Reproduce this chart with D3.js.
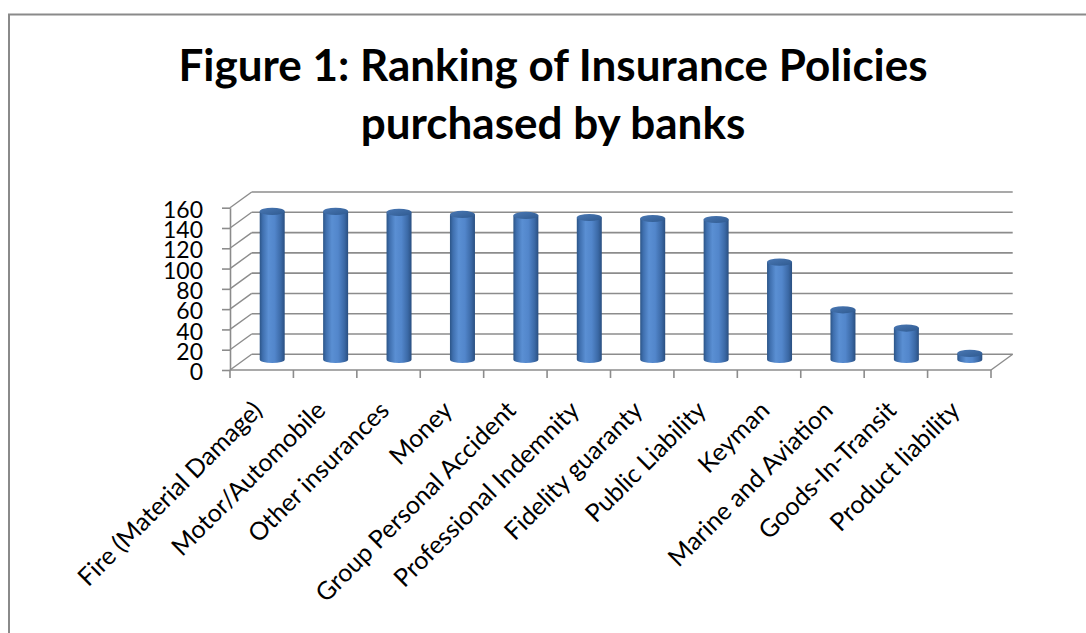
<!DOCTYPE html>
<html><head><meta charset="utf-8">
<script src="https://cdn.jsdelivr.net/npm/d3@7"></script>
<style>body{margin:0;background:#fff}svg{display:block}</style></head>
<body>
<svg id="c" width="1086" height="633"></svg>
<script>
const categories = ["Fire (Material Damage)","Motor/Automobile","Other insurances","Money",
  "Group Personal Accident","Professional Indemnity","Fidelity guaranty","Public Liability",
  "Keyman","Marine and Aviation","Goods-In-Transit","Product liability"];
const values = [146,146,145,143,142,140,139,138,96,49,31,6];
const yTickValues = [0,20,40,60,80,100,120,140,160];
const titleLines = ["Figure 1: Ranking of Insurance Policies","purchased by banks"];

const svg = d3.select("#c");
const W = 1086, H = 633;
const font = "Lato, 'Open Sans', sans-serif";
const grid = "#8c8c8c";

// frame
svg.append("rect").attr("x",9).attr("y",14.5).attr("width",W+20).attr("height",H+20)
  .attr("fill","#fff").attr("stroke","#8a8a8a").attr("stroke-width",2);

// title
svg.append("g").selectAll("text").data(titleLines).join("text")
  .attr("x",553).attr("y",(d,i)=>81+i*58)
  .attr("text-anchor","middle").attr("font-family",font).attr("font-weight","bold")
  .attr("font-size",44).attr("fill","#000").text(d=>d);

// geometry
const x0 = 230, x1 = 991, dX = 21.7, dY = -15.7;
const x = d3.scaleBand().domain(categories).range([x0,x1]);
const y = d3.scaleLinear().domain([0,160]).range([370,207.7]);
const bw = x.bandwidth();

const g = svg.append("g");
// back wall gridlines
g.selectAll("line.bg").data(yTickValues).join("line").attr("class","bg")
  .attr("x1",x0+dX).attr("x2",x1+dX).attr("y1",d=>y(d)+dY).attr("y2",d=>y(d)+dY)
  .attr("stroke",grid).attr("stroke-width",1.6);
// side wall gridlines
g.selectAll("line.sg").data(yTickValues).join("line").attr("class","sg")
  .attr("x1",x0).attr("x2",x0+dX).attr("y1",d=>y(d)).attr("y2",d=>y(d)+dY)
  .attr("stroke",grid).attr("stroke-width",1.4);
// floor right edge
g.append("line").attr("x1",x1).attr("y1",y(0)).attr("x2",x1+dX).attr("y2",y(0)+dY)
  .attr("stroke",grid).attr("stroke-width",1.4);

// left axis
const yAxis = d3.axisLeft(y).tickValues(yTickValues).tickSize(8).tickPadding(19).tickSizeOuter(0);
const ya = svg.append("g").attr("transform",`translate(${x0},0)`).call(yAxis);
ya.select(".domain").attr("stroke",grid).attr("stroke-width",1.6);
ya.selectAll(".tick line").attr("stroke",grid).attr("stroke-width",1.6);
ya.selectAll(".tick text").attr("font-family",font).attr("font-size",23)
  .attr("fill","#000").attr("dy","0.42em");

// bottom axis line + ticks at category boundaries
const bounds = categories.map(c=>x(c)).concat([x1]);
svg.append("line").attr("x1",x0).attr("x2",x1).attr("y1",y(0)).attr("y2",y(0))
  .attr("stroke",grid).attr("stroke-width",1.6);
svg.append("g").selectAll("line").data(bounds).join("line")
  .attr("x1",d=>d).attr("x2",d=>d).attr("y1",y(0)).attr("y2",y(0)+8)
  .attr("stroke",grid).attr("stroke-width",1.6);

// category labels
svg.append("g").selectAll("text").data(categories).join("text")
  .attr("transform",d=>`translate(${x(d)+bw/2+2},412) rotate(-45)`)
  .attr("text-anchor","end").attr("font-family",font).attr("font-size",25)
  .attr("fill","#000").text(d=>d);

// cylinders
const defs = svg.append("defs");
const grad = defs.append("linearGradient").attr("id","cyl").attr("x1","0").attr("x2","1").attr("y1","0").attr("y2","0");
[[0,"#2c5587"],[0.12,"#3f6fae"],[0.35,"#5a8fd3"],[0.6,"#5286cb"],[0.85,"#3b69a6"],[1,"#2a4f80"]]
  .forEach(([o,c])=>grad.append("stop").attr("offset",o).attr("stop-color",c));
const gradTop = defs.append("linearGradient").attr("id","cyltop").attr("x1","0").attr("x2","1").attr("y1","0").attr("y2","1");
[[0,"#4a78b4"],[1,"#2f5a90"]].forEach(([o,c])=>gradTop.append("stop").attr("offset",o).attr("stop-color",c));

const rx = 12.5, ry = 3.6, offX = 10.5, offY = -10.5;
const bars = svg.append("g").selectAll("g").data(categories.map((c,i)=>({c,v:values[i]}))).join("g");
bars.append("path").attr("d",d=>{
  const cx = x(d.c)+bw/2+offX, yb = y(0)+offY, yt = y(d.v)+offY;
  return `M${cx-rx},${yt} L${cx-rx},${yb} A${rx},${ry} 0 0 0 ${cx+rx},${yb} L${cx+rx},${yt} Z`;
}).attr("fill","url(#cyl)");
bars.append("ellipse").attr("cx",d=>x(d.c)+bw/2+offX).attr("cy",d=>y(d.v)+offY)
  .attr("rx",rx).attr("ry",ry).attr("fill","url(#cyltop)");
</script>
</body></html>
